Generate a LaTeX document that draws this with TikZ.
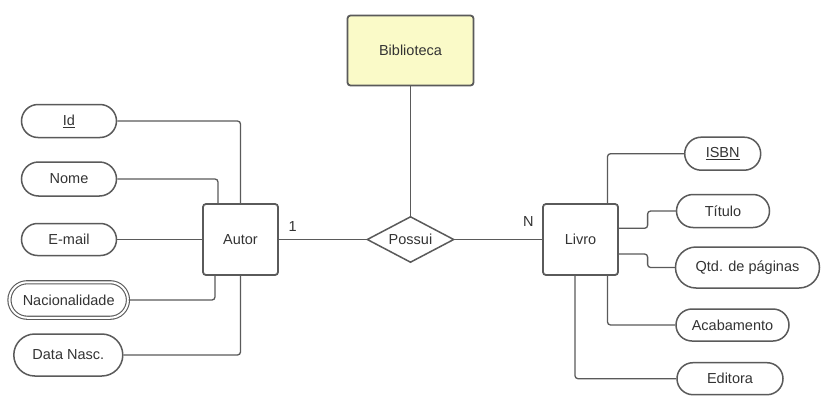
\documentclass[tikz,border=0pt]{standalone}
\usepackage{fontspec}
\setmainfont{Liberation Sans}
\usetikzlibrary{shapes.geometric,shapes.misc}
\definecolor{ln}{HTML}{5A5A5A}
\definecolor{tx}{HTML}{333333}
\definecolor{yel}{HTML}{FAFAC8}
\tikzset{
  ent/.style={draw=ln, line width=1.8pt, rounded corners=3pt, inner sep=0pt, minimum width=75pt, minimum height=71pt, text=tx, fill=white},
  attr/.style={draw=ln, line width=1.5pt, rounded rectangle, inner sep=0pt, text=tx, fill=white},
  rel/.style={draw=ln, line width=1.5pt, diamond, inner sep=0pt, minimum width=87pt, minimum height=46pt, aspect=1.89, text=tx, fill=white},
  conn/.style={draw=ln, line width=1.3pt, rounded corners=3pt},
  card/.style={text=tx, inner sep=0pt}
}
\begin{document}
\begin{tikzpicture}[x=1pt,y=-1pt,font=\fontsize{14.5}{17}\selectfont]
\useasboundingbox (0,0) rectangle (831,418);
\fill[white] (0,0) rectangle (831,418);
% entities
\node[ent, fill=yel, minimum width=126pt, minimum height=70pt] (bib) at (410.5,50.5) {Biblioteca};
\node[ent] (autor) at (240.5,239.5) {Autor};
\node[ent] (livro) at (580.5,239.5) {Livro};
\node[rel] (pos) at (410.5,239.5) {Possui};
% left attributes
\node[attr, minimum width=95pt, minimum height=33pt] (id) at (69,121) {\underline{Id}};
\node[attr, minimum width=95pt, minimum height=34pt] (nome) at (69,179) {Nome};
\node[attr, minimum width=95pt, minimum height=32pt] (email) at (69,239.5) {E-mail};
\node[attr, line width=1.1pt, double=white, double distance=2pt, minimum width=118.5pt, minimum height=35.5pt] (nac) at (68.7,300) {Nacionalidade};
\node[attr, minimum width=109pt, minimum height=42pt] (data) at (68.3,355) {Data Nasc.};
% right attributes
\node[attr, minimum width=76pt, minimum height=33pt] (isbn) at (722.7,153.7) {\underline{ISBN}};
\node[attr, minimum width=93pt, minimum height=33pt] (titulo) at (723,211) {Título};
\node[attr, minimum width=144pt, minimum height=41pt] (qtd) at (747.5,267.5) {Qtd. de páginas};
\node[attr, minimum width=113pt, minimum height=32pt] (acab) at (732.5,325) {Acabamento};
\node[attr, minimum width=106pt, minimum height=32pt] (edit) at (730,378.7) {Editora};
% cardinalities
\node[card] (c1) at (292.7,226.7) {1};
\node[card] (cn) at (528.3,222) {N};
% connectors
\path[conn] (bib.south) -- (pos.north);
\path[conn] (autor.east) -- (pos.west);
\path[conn] (pos.east) -- (livro.west);
\path[conn] (id.east) -| (autor.north);
\path[conn] (nome.east) -| ([xshift=-22.5pt]autor.north);
\path[conn] (email.east) -- (autor.west);
\path[conn] (nac.east) -| ([xshift=-25.5pt]autor.south);
\path[conn] (data.east) -| (autor.south);
\path[conn] ([xshift=27pt]livro.north) |- (isbn.west);
\path[conn] ([yshift=11.2pt]livro.east) -- ++(28.7,0) |- (titulo.west);
\path[conn] ([yshift=-14.5pt]livro.east) -- ++(28.7,0) |- (qtd.west);
\path[conn] ([xshift=27pt]livro.south) |- (acab.west);
\path[conn] ([xshift=-5.5pt]livro.south) |- (edit.west);
\end{tikzpicture}
\end{document}
